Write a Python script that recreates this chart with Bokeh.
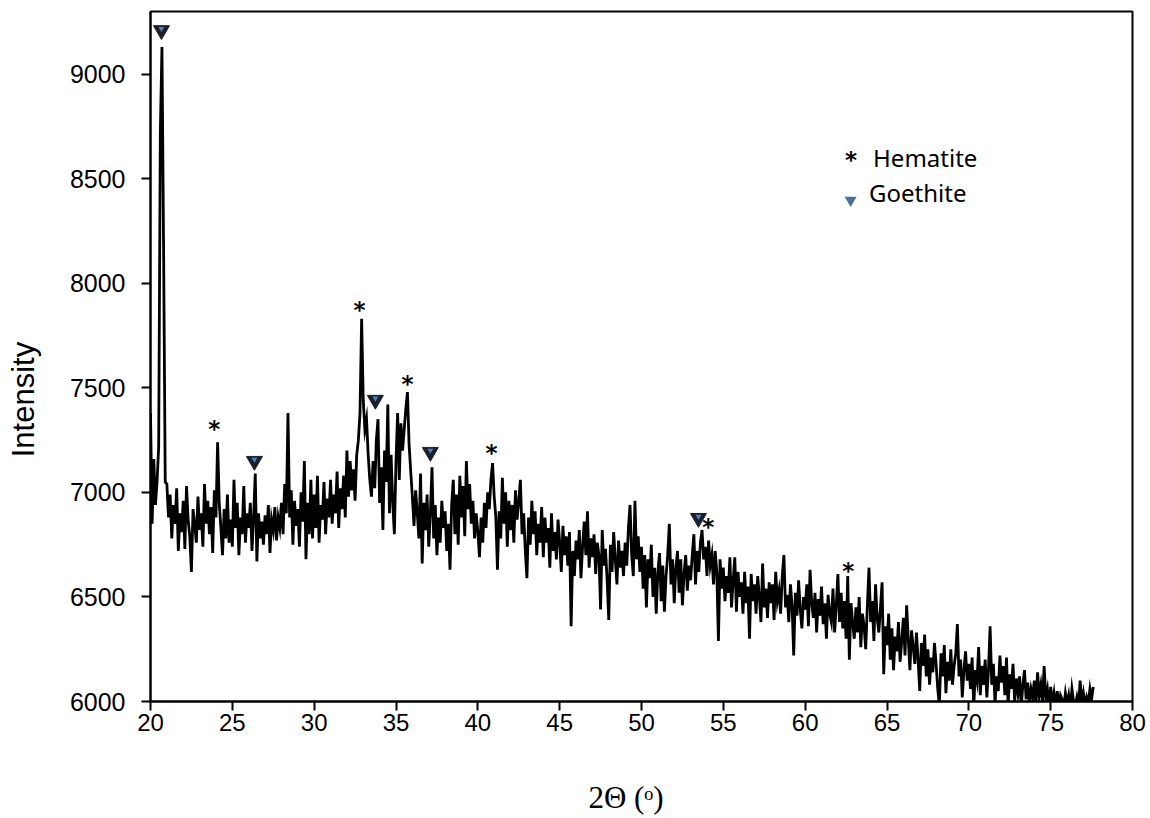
import numpy as np
from bokeh.plotting import figure
from bokeh.models import Range1d, FixedTicker
from bokeh.core.properties import value
from bokeh.embed import file_html
from bokeh.resources import INLINE

# ---- data: XRD pattern, 2-theta from 20.0 step 0.1 ----
two_theta_start = 20.0
two_theta_step = 0.1
intensity = [
    # 20
    7380, 6850, 7160, 6940, 7050, 7220, 8720, 9130, 8170, 7050,
    # 21
    7040, 6880, 6990, 6780, 6940, 6850, 7020, 6720, 6900, 6810,
    # 22
    6960, 6730, 7030, 6870, 6790, 6620, 6920, 6850, 6760, 6980,
    # 23
    6820, 6900, 6740, 7040, 6850, 6960, 6800, 6930, 6710, 7010,
    # 24
    6880, 7240, 6950, 6830, 6700, 6920, 6780, 6990, 6760, 6870,
    # 25
    6740, 7060, 6830, 6950, 6700, 6880, 6800, 7030, 6760, 6900,
    # 26
    6830, 6950, 6720, 6880, 7090, 6670, 6900, 6780, 6860, 6750,
    # 27
    6890, 6800, 6940, 6710, 6870, 6820, 6930, 6770, 6880, 6830,
    # 28
    6950, 6800, 7040, 6900, 7380, 6880, 7010, 6750, 6960, 6840,
    # 29
    6920, 6740, 7000, 6860, 7150, 6680, 6950, 6800, 7060, 6780,
    # 30
    6990, 6830, 7080, 6760, 6940, 6870, 7050, 6800, 6970, 6880,
    # 31
    7060, 6850, 6990, 6900, 7100, 6830, 7020, 6920, 7080, 6880,
    # 32
    7200, 6980, 7150, 7010, 7110, 6960, 7180, 7250, 7380, 7830,
    # 33
    7440, 7300, 7350, 7180, 7060, 6980, 7150, 7020, 7250, 7350,
    # 34
    6950, 7120, 6820, 7200, 7050, 7420, 6900, 7180, 6950, 6800,
    # 35
    7150, 7380, 7060, 7330, 7200, 7300, 7400, 7480, 7230, 7100,
    # 36
    6980, 6840, 7010, 6900, 6780, 7090, 6660, 6950, 6820, 6990,
    # 37
    6740, 6900, 7120, 6780, 6940, 6700, 6880, 6760, 6960, 6830,
    # 38
    6910, 6720, 6850, 6630, 6940, 7060, 6800, 6990, 6750, 7080,
    # 39
    6880, 7030, 6790, 7150, 6920, 7040, 6850, 6960, 6780, 6900,
    # 40
    6810, 6690, 6880, 6760, 6950, 6830, 7000, 6920, 7060, 7140,
    # 41
    6980, 6880, 6630, 6910, 6780, 7070, 6850, 7000, 6740, 6960,
    # 42
    6820, 6940, 6760, 7010, 6870, 6960, 7060, 6800, 6900, 6720,
    # 43
    6590, 6880, 6750, 6960, 6800, 6910, 6700, 6850, 6760, 6930,
    # 44
    6690, 6880, 6760, 6830, 6640, 6900, 6720, 6810, 6680, 6870,
    # 45
    6760, 6620, 6840, 6700, 6790, 6650, 6810, 6360, 6720, 6600,
    # 46
    6770, 6680, 6820, 6590, 6740, 6860, 6700, 6910, 6640, 6780,
    # 47
    6690, 6800, 6610, 6760, 6700, 6440, 6820, 6650, 6730, 6580,
    # 48
    6390, 6750, 6620, 6810, 6680, 6560, 6770, 6640, 6720, 6600,
    # 49
    6760, 6650, 6830, 6940, 6700, 6600, 6960, 6680, 6790, 6620,
    # 50
    6740, 6540, 6700, 6450, 6680, 6590, 6750, 6500, 6640, 6420,
    # 51
    6620, 6710, 6480, 6650, 6430, 6600, 6700, 6850, 6560, 6680,
    # 52
    6470, 6640, 6720, 6520, 6680, 6460, 6610, 6700, 6530, 6650,
    # 53
    6580, 6700, 6800, 6560, 6720, 6620, 6760, 6820, 6680, 6740,
    # 54
    6600, 6770, 6650, 6700, 6560, 6720, 6620, 6290, 6680, 6540,
    # 55
    6640, 6480, 6600, 6520, 6690, 6450, 6580, 6690, 6430, 6620,
    # 56
    6500, 6570, 6420, 6620, 6470, 6550, 6300, 6610, 6480, 6560,
    # 57
    6420, 6600, 6500, 6380, 6660, 6450, 6540, 6400, 6570, 6470,
    # 58
    6560, 6390, 6620, 6480, 6530, 6420, 6600, 6700, 6450, 6510,
    # 59
    6380, 6560, 6460, 6220, 6520, 6410, 6580, 6440, 6350, 6500,
    # 60
    6440, 6560, 6360, 6630, 6470, 6400, 6520, 6330, 6490, 6410,
    # 61
    6550, 6370, 6470, 6300, 6510, 6420, 6380, 6540, 6330, 6460,
    # 62
    6610, 6380, 6520, 6350, 6480, 6300, 6600, 6200, 6470, 6380,
    # 63
    6300, 6450, 6330, 6500, 6260, 6420, 6360, 6250, 6460, 6640,
    # 64
    6380, 6480, 6290, 6560, 6400, 6330, 6450, 6570, 6130, 6360,
    # 65
    6270, 6420, 6200, 6350, 6150, 6310, 6240, 6380, 6190, 6290,
    # 66
    6400, 6220, 6460, 6300, 6150, 6340, 6260, 6180, 6330, 6200,
    # 67
    6050, 6280, 6170, 6320, 6120, 6250, 6080, 6210, 6140, 6280,
    # 68
    6180, 6060, 5980, 6230, 6120, 6270, 6040, 6190, 6100, 6250,
    # 69
    6080, 6170, 6230, 6370, 6120, 6200, 6020, 6150, 6240, 6100,
    # 70
    6180, 6060, 6210, 5970, 6150, 6100, 6260, 6030, 6170, 6080,
    # 71
    6200, 6020, 6150, 6360, 6080, 6180, 5990, 6120, 6050, 6220,
    # 72
    6090, 6170, 6030, 6210, 5980, 6130, 6060, 6180, 6000, 6110,
    # 73
    6040, 6120, 5970, 6080, 6150, 6010, 6090, 5990, 6060, 6020,
    # 74
    6100, 5980, 6140, 6030, 6080, 5990, 6170, 6020, 6060, 5970,
    # 75
    6070, 5990, 6040, 5960, 6050, 5980, 6030, 6010, 5970, 6040,
    # 76
    5990, 6030, 5960, 6060, 6000, 5980, 6020, 5970, 6100, 5990,
    # 77
    6040, 5980, 6020, 5990, 6060, 6010, 6070,
]
two_theta = [round(two_theta_start + i * two_theta_step, 2) for i in range(len(intensity))]

# peak annotations
hematite_2theta = [23.9, 32.77, 35.7, 40.83, 54.08, 62.64]
hematite_mark_y = [7327, 7897, 7543, 7212, 6858, 6647]
goethite_2theta = [20.67, 26.35, 33.74, 37.1, 53.48]
goethite_mark_y = [9210, 7150, 7442, 7193, 6877]

x_ticks = [20, 25, 30, 35, 40, 45, 50, 55, 60, 65, 70, 75, 80]
y_ticks = [6000, 6500, 7000, 7500, 8000, 8500, 9000]

p = figure(width=1150, height=818, output_backend="svg", toolbar_location=None,
           x_range=Range1d(20, 80), y_range=Range1d(6000, 9300),
           min_border_left=150, min_border_right=18, min_border_top=11,
           min_border_bottom=117)
p.background_fill_color = "white"
p.border_fill_color = "white"
p.outline_line_color = "black"
p.outline_line_width = 2
p.grid.visible = False

p.line(two_theta, intensity, line_color="black", line_width=2.8, line_join="miter")

# hematite asterisks
p.text(x=hematite_2theta, y=hematite_mark_y, text=["*"] * len(hematite_2theta),
       text_font=value("DejaVu Sans"), text_font_size="23px", text_font_style="bold",
       text_align="center", text_baseline="middle", text_color="black", y_offset=5)
# goethite triangles
p.scatter(goethite_2theta, goethite_mark_y, marker="inverted_triangle", size=16,
          fill_color="#1c1f2a", line_color="#1c1f2a")
p.scatter(goethite_2theta, [v + 8 for v in goethite_mark_y], marker="inverted_triangle",
          size=6, fill_color="#4a80c0", line_color=None)

# legend
leg_x_sym = [62.8, 62.78]
leg_y = [8601, 8433]
p.text(x=[leg_x_sym[0]], y=[leg_y[0]], text=["*"], text_font=value("DejaVu Sans"),
       text_font_size="23px", text_font_style="bold", text_align="center",
       text_baseline="middle", text_color="black", y_offset=2)
p.scatter([leg_x_sym[1]], [leg_y[1] - 35], marker="inverted_triangle", size=12,
          fill_color="#4a6e9e", line_color=None)
p.text(x=[64.15, 63.9], y=leg_y, text=["Hematite", "Goethite"],
       text_font=value("Noto Sans"), text_font_size="24px", text_align="left",
       text_baseline="middle", text_color="black")

# axes
p.xaxis.ticker = FixedTicker(ticks=x_ticks)
p.yaxis.ticker = FixedTicker(ticks=y_ticks)
for ax in (p.xaxis[0], p.yaxis[0]):
    ax.axis_line_width = 2
    ax.axis_line_color = "black"
    ax.major_tick_line_width = 2
    ax.major_tick_line_color = "black"
    ax.major_tick_out = 9
    ax.major_tick_in = 0
    ax.minor_tick_line_color = None
    ax.major_label_text_font = "Liberation Sans"
    ax.major_label_text_color = "black"

p.xaxis.major_label_text_font_size = "24px"
p.yaxis.major_label_text_font_size = "25px"
p.xaxis.major_label_standoff = 3
p.yaxis.major_label_standoff = 16

nb = "\u00a0"
p.xaxis.axis_label = "2\u0398 (\u1d52)" + nb * 4
p.xaxis.axis_label_text_font = "Liberation Serif"
p.xaxis.axis_label_text_font_size = "31px"
p.xaxis.axis_label_text_font_style = "normal"
p.xaxis.axis_label_text_color = "black"
p.xaxis.axis_label_standoff = 46
p.yaxis.axis_label = "Intensity" + nb * 10
p.yaxis.axis_label_text_font = "Liberation Sans"
p.yaxis.axis_label_text_font_size = "31px"
p.yaxis.axis_label_text_font_style = "normal"
p.yaxis.axis_label_text_color = "black"
p.yaxis.axis_label_standoff = 26

open("out.html", "w").write(file_html(p, INLINE))
